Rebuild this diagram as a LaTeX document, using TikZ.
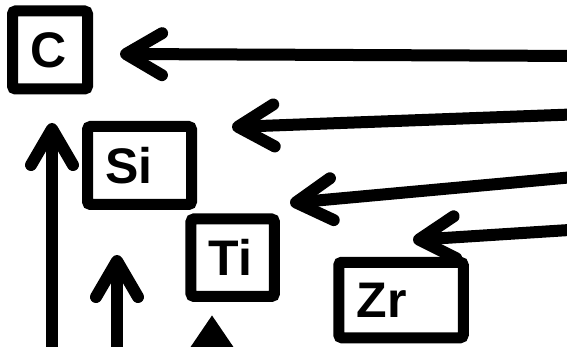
\documentclass[tikz,border=0pt]{standalone}
\usepackage{fontspec}
\setmainfont{Liberation Sans}
\usetikzlibrary{arrows.meta}
\tikzset{
  caja/.style={draw, line width=11pt, rounded corners=3pt, inner xsep=18pt, inner ysep=0pt,
    align=left, font=\bfseries\fontsize{50}{50}\selectfont},
  flecha/.style={line width=12pt, line cap=round, -{Straight Barb[length=36pt,width=42pt,round]}},
  flechallena/.style={line width=12pt, -{Triangle[length=44pt,width=56pt]}},
}
\begin{document}
\begin{tikzpicture}[x=1pt,y=-1pt]
    \useasboundingbox (0,0) rectangle (567,347);
    \clip (0,0) rectangle (567,347);
    % Cajas
    \node[caja, minimum width=75pt, minimum height=78pt, text width=39pt] (c) at (50,50) {C};
    \node[caja, minimum width=104pt, minimum height=78pt, text width=68pt] (si) at (139.5,165.5) {Si};
    \node[caja, minimum width=83.5pt, minimum height=77.5pt, text width=47.5pt] (ti) at (232.7,257.7) {Ti};
    \node[caja, minimum width=124.5pt, minimum height=75.5pt, text width=88.5pt] (zr) at (401,300) {Zr};
    % Puntas y colas
    \coordinate (c-cola) at (585,56);
    \coordinate (c-punta) at (120,54);
    \coordinate (si-cola) at (585,114);
    \coordinate (si-punta) at (232,127);
    \coordinate (ti-cola) at (585,176);
    \coordinate (ti-punta) at (290,203);
    \coordinate (zr-cola) at (585,229);
    \coordinate (zr-punta) at (413,240);
    \coordinate (v1-cola) at (52,370);
    \coordinate (v1-punta) at (52,123);
    \coordinate (v2-cola) at (117,370);
    \coordinate (v2-punta) at (117,255);
    \coordinate (v3-cola) at (212,430);
    \coordinate (v3-punta) at (212,315);
    % Flechas horizontales
    \draw[flecha] (c-cola) -- (c-punta);
    \draw[flecha] (si-cola) -- (si-punta);
    \draw[flecha] (ti-cola) -- (ti-punta);
    \draw[flecha] (zr-cola) -- (zr-punta);
    % Flechas verticales
    \draw[flecha] (v1-cola) -- (v1-punta);
    \draw[flecha] (v2-cola) -- (v2-punta);
    \draw[flechallena] (v3-cola) -- (v3-punta);
\end{tikzpicture}
\end{document}
